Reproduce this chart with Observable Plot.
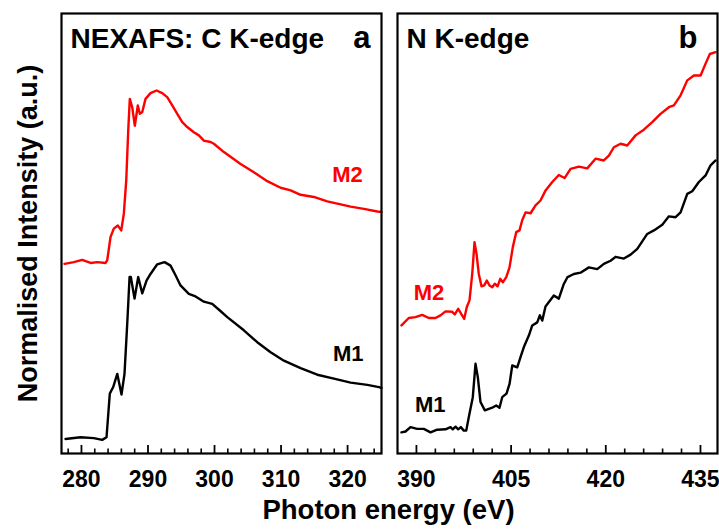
<!DOCTYPE html>
<html>
<head>
<meta charset="utf-8">
<script src="https://cdn.jsdelivr.net/npm/d3@7"></script>
<script src="https://cdn.jsdelivr.net/npm/@observablehq/plot@0.6"></script>
<style>
  html, body { margin: 0; padding: 0; background: #fff; }
  #chart { position: relative; width: 719px; height: 529px; font-family: "Liberation Sans", Arial, sans-serif; }
  .panel { position: absolute; top: 0; }
  .panel svg { overflow: visible; }
  #xlabel { position: absolute; left: 0; width: 777px; top: 494px; text-align: center;
            font: bold 27.5px "Liberation Sans", Arial, sans-serif; color: #000; }
</style>
</head>
<body>
<div id="chart">
  <div class="panel" id="left"></div>
  <div class="panel" id="right" style="left:390px"></div>
  <div id="xlabel">Photon energy (eV)</div>
</div>
<script>
// C K-edge spectra (photon energy in eV, normalised intensity in a.u.)
const cEnergyM2 = [277.45, 278.85, 280.11, 281.36, 282.37, 283.62, 283.87, 284.37, 284.86, 285.47, 285.98, 286.37, 286.73, 287.03, 287.27, 287.63, 288.02, 288.47, 288.77, 289.14, 289.63, 290.38, 291.29, 292.14, 292.89, 293.65, 294.40, 295.15, 295.90, 296.89, 297.65, 298.40, 299.41, 299.90, 301.41, 303.92, 305.92, 307.93, 309.93, 311.44, 312.94, 314.94, 316.95, 318.46, 320.46, 322.46, 324.47, 325.1];
const cIntensityM2 = [43.1, 43.5, 44.0, 43.3, 43.5, 43.3, 43.9, 49.2, 51.1, 51.8, 50.7, 54.5, 62.0, 73.4, 80.6, 78.7, 74.5, 79.1, 77.2, 77.6, 80.6, 81.9, 82.5, 81.9, 81.0, 79.1, 77.2, 75.3, 74.2, 73.0, 72.3, 71.1, 70.8, 70.4, 68.5, 65.8, 63.9, 61.9, 60.4, 59.8, 58.8, 58.3, 57.3, 56.8, 56.1, 55.6, 55.0, 54.9];
const cEnergyM1 = [277.60, 279.86, 281.86, 283.12, 283.77, 284.26, 284.77, 285.38, 286.02, 286.47, 286.88, 287.23, 287.42, 287.98, 288.53, 289.14, 289.78, 290.38, 291.39, 292.49, 293.39, 294.14, 294.89, 296.14, 297.15, 298.40, 299.66, 300.80, 301.92, 304.41, 306.43, 308.43, 310.43, 312.94, 315.45, 317.95, 320.46, 322.97, 324.71, 325.1];
const cIntensityM1 = [3.3, 3.7, 3.5, 3.1, 3.7, 13.6, 15.1, 18.1, 13.4, 18.1, 29.5, 40.1, 40.1, 35.2, 40.1, 36.4, 39.3, 40.8, 43.0, 43.5, 42.7, 40.5, 38.2, 36.3, 35.7, 34.5, 34.0, 32.5, 31.0, 28.0, 25.3, 23.0, 21.1, 19.4, 17.9, 17.0, 16.1, 15.6, 15.1, 14.9];

// N K-edge spectra
const nEnergyM2 = [387.63, 388.79, 389.85, 390.91, 391.96, 393.02, 393.81, 394.61, 395.67, 396.08, 396.62, 397.14, 397.57, 397.98, 398.41, 398.84, 399.20, 399.52, 399.88, 400.31, 400.74, 401.15, 401.58, 402.01, 402.42, 402.85, 403.28, 403.69, 404.23, 404.75, 405.27, 405.81, 406.33, 406.76, 407.29, 408.08, 408.87, 409.66, 410.46, 411.52, 412.56, 413.47, 414.42, 415.73, 417.06, 418.38, 419.69, 420.49, 421.28, 422.34, 423.40, 424.72, 426.03, 427.36, 428.68, 430.00, 430.79, 431.85, 432.91, 433.96, 435.02, 435.81, 436.49, 437.40];
const nIntensityM2 = [29.1, 30.8, 31.0, 31.5, 30.8, 30.8, 31.4, 32.3, 32.2, 31.6, 32.9, 31.6, 30.6, 33.3, 34.8, 40.8, 48.0, 45.4, 40.8, 38.0, 38.2, 39.3, 38.2, 37.8, 38.6, 38.0, 39.7, 38.9, 40.1, 42.3, 46.9, 50.3, 50.7, 53.0, 54.8, 54.6, 56.4, 57.5, 59.8, 61.7, 63.3, 62.6, 64.7, 65.2, 64.8, 67.0, 66.6, 67.7, 69.6, 70.4, 70.0, 72.3, 73.6, 75.3, 77.2, 78.7, 79.1, 81.4, 84.8, 85.9, 85.9, 88.6, 90.8, 91.2];
const nEnergyM1 = [387.63, 388.27, 389.06, 390.12, 391.17, 392.23, 393.29, 394.61, 395.40, 395.76, 396.19, 396.62, 397.03, 397.51, 397.89, 398.30, 398.93, 399.36, 399.73, 400.15, 400.84, 402.01, 402.64, 403.16, 403.59, 404.27, 404.75, 405.18, 405.97, 406.49, 407.02, 407.81, 408.35, 409.14, 409.55, 409.93, 410.45, 411.77, 412.56, 413.31, 413.94, 414.94, 416.00, 417.32, 418.65, 419.69, 420.76, 421.55, 422.86, 423.93, 424.99, 426.57, 427.62, 428.95, 430.00, 431.06, 431.85, 432.91, 433.70, 434.75, 435.81, 436.60, 437.40];
const nIntensityM1 = [4.8, 5.0, 6.0, 5.6, 5.6, 4.8, 5.4, 5.5, 6.0, 5.5, 6.1, 5.5, 6.0, 5.2, 5.2, 8.3, 12.8, 20.4, 17.3, 11.7, 9.8, 10.4, 10.9, 10.4, 12.8, 13.6, 15.8, 20.0, 19.6, 21.9, 24.2, 26.8, 29.1, 29.8, 31.4, 30.2, 33.4, 35.9, 35.2, 38.4, 40.1, 40.8, 41.1, 42.3, 41.9, 43.1, 43.8, 44.7, 44.3, 45.2, 46.5, 49.9, 50.7, 52.0, 53.9, 53.7, 54.8, 59.0, 59.6, 61.7, 63.2, 65.5, 66.6];

// Axis ticks
const cTicks = [280, 290, 300, 310, 320];
const cMinorTicks = [278, 282, 284, 286, 288, 292, 294, 296, 298, 302, 304, 306, 308, 312, 314, 316, 318, 322, 324];
const nTicks = [390, 405, 420, 435];
const nMinorTicks = [393, 396, 399, 402, 408, 411, 414, 417, 423, 426, 429, 432];

// Panel titles and sample labels
const cTitle = "NEXAFS: C K-edge";
const nTitle = "N K-edge";
const yTitle = "Normalised Intensity (a.u.)";
const sampleLabels = [
  {panel: "C", name: "M2", x: 320.0, y: 61.7},
  {panel: "C", name: "M1", x: 320.1, y: 21.1},
  {panel: "N", name: "M2", x: 392.0, y: 34.9},
  {panel: "N", name: "M1", x: 392.2, y: 9.4}
];

const colors = {M1: "#000000", M2: "#ff0000"};
const font = "Liberation Sans, Arial, sans-serif";
const plotHeight = 529, marginTop = 13, marginBottom = 76;
const frameHeight = plotHeight - marginTop - marginBottom;

const toRows = (xs, ys, sample) => xs.map((x, i) => ({energy: x, intensity: ys[i], sample}));

function panel({rows, domain, ticks, minor, title, tag, panelKey, width, marginLeft, marginRight, yLabel}) {
  const marks = [
    Plot.line(rows, {x: "energy", y: "intensity", z: "sample",
      stroke: d => colors[d.sample], strokeWidth: 2.4, strokeLinejoin: "round", curve: "linear"}),
    // inward tick marks along the bottom edge
    Plot.ruleX(minor, {x: d => d, insetTop: frameHeight - 4.5, stroke: "#000", strokeWidth: 1.6}),
    Plot.ruleX(ticks, {x: d => d, insetTop: frameHeight - 8, stroke: "#000", strokeWidth: 1.8}),
    Plot.axisX({ticks, tickSize: 0, tickPadding: 17, fontSize: 23, fontWeight: "bold",
      fill: "#000", tickFormat: d3.format("d"), label: null}),
    Plot.frame({stroke: "#000", strokeWidth: 2.2}),
    Plot.text([title], {frameAnchor: "top-left", dx: 9, dy: 34, lineAnchor: "bottom",
      textAnchor: "start", fontSize: 28, fontWeight: "bold", fill: "#000"}),
    Plot.text([tag], {frameAnchor: "top-right", dx: panelKey === "C" ? -11 : -20, dy: 34,
      lineAnchor: "bottom", textAnchor: "end", fontSize: 31, fontWeight: "bold", fill: "#000"}),
    Plot.text(sampleLabels.filter(d => d.panel === panelKey), {x: "x", y: "y", text: "name",
      fill: d => colors[d.name], lineAnchor: "bottom", textAnchor: "middle",
      fontSize: 22, fontWeight: "bold"})
  ];
  if (yLabel) {
    marks.push(Plot.text([yLabel], {frameAnchor: "left", dx: -25, rotate: -90,
      textAnchor: "middle", lineAnchor: "bottom", fontSize: 27, fontWeight: "bold", fill: "#000"}));
  }
  return Plot.plot({
    width, height: plotHeight,
    marginLeft, marginRight, marginTop, marginBottom,
    style: {fontFamily: font, background: "transparent", overflow: "visible"},
    x: {domain, axis: null},
    y: {domain: [0, 100], axis: null},
    marks
  });
}

document.getElementById("left").append(panel({
  rows: [...toRows(cEnergyM2, cIntensityM2, "M2"), ...toRows(cEnergyM1, cIntensityM1, "M1")],
  domain: [277, 325.1], ticks: cTicks, minor: cMinorTicks,
  title: cTitle, tag: "a", panelKey: "C", width: 390, marginLeft: 61, marginRight: 9, yLabel: yTitle
}));

document.getElementById("right").append(panel({
  rows: [...toRows(nEnergyM2, nIntensityM2, "M2"), ...toRows(nEnergyM1, nIntensityM1, "M1")],
  domain: [387, 437.7], ticks: nTicks, minor: nMinorTicks,
  title: nTitle, tag: "b", panelKey: "N", width: 329, marginLeft: 7, marginRight: 2
}));
</script>
</body>
</html>
